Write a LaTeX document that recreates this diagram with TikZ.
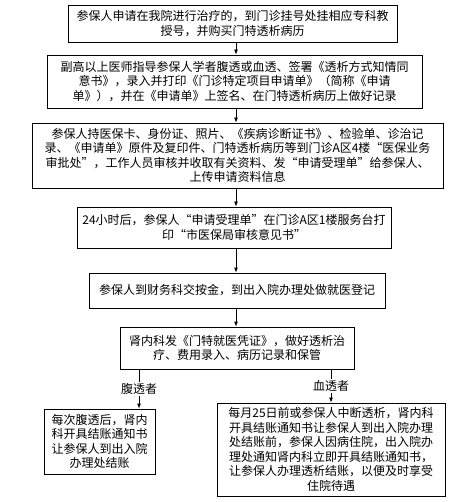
\documentclass[tikz,border=0pt]{standalone}
\usepackage{fontspec}
\newfontfamily\cjk{Noto Sans CJK SC}
\usetikzlibrary{arrows.meta}
\tikzset{
  box/.style={draw, line width=0.8pt, inner xsep=3pt, inner ysep=0pt, align=center,
    font=\cjk\fontsize{12}{14.5}\selectfont},
  arr/.style={line width=0.8pt, -{Latex[length=5pt,width=4pt]}},
  lbl/.style={fill=white, inner sep=1.5pt, font=\cjk\fontsize{12}{14}\selectfont}
}
\begin{document}
\begin{tikzpicture}[x=1pt,y=-1pt]
\useasboundingbox (0,0) rectangle (459,502);
\node[box, text width=323pt, minimum height=37pt] (b1) at (232.5,23.5)
 {参保人申请在我院进行治疗的，到门诊挂号处挂相应专科教\\授号，并购买门特透析病历};
\node[box, text width=369pt, minimum height=53pt] (b2) at (234.5,81.5)
 {副高以上医师指导参保人学者腹透或血透、签署《透析方式知情同\\意书》，录入并打印《门诊特定项目申请单》（简称《申请\\单》），并在《申请单》上签名、在门特透析病历上做好记录};
\node[box, text width=405pt, minimum height=65pt] (b3) at (237.5,155.5)
 {参保人持医保卡、身份证、照片、《疾病诊断证书》、检验单、诊治记\\录、《申请单》原件及复印件、门特透析病历等到门诊A区4楼“医保业务\\审批处”，工作人员审核并收取有关资料、发“申请受理单”给参保人、\\上传申请资料信息};
\node[box, text width=308pt, minimum height=41pt] (b4) at (234,227.5)
 {24小时后，参保人“申请受理单”在门诊A区1楼服务台打\\印“市医保局审核意见书”};
\node[box, text width=290pt, minimum height=35pt] (b5) at (237,290.5)
 {参保人到财务科交按金，到出入院办理处做就医登记};
\node[box, text width=228pt, minimum height=42pt] (b6) at (237,348)
 {肾内科发《门特就医凭证》，做好透析治\\疗、费用录入、病历记录和保管};
\node[box, text width=105pt, minimum height=65pt] (b7) at (99.5,441.5)
 {每次腹透后，肾内\\科开具结账通知书\\让参保人到出入院\\办理处结账};
\node[box, text width=222pt, minimum height=93pt] (b8) at (331,449.5)
 {每月25日前或参保人中断透析，肾内科\\开具结账通知书让参保人到出入院办理\\处结账前，参保人因病住院，出入院办\\理处通知肾内科立即开具结账通知书，\\让参保人办理透析结账，以便及时享受\\住院待遇};
\draw[arr] (b1.south -| 236,0) -- (b2.north -| 236,0);
\draw[arr] (b2.south -| 236,0) -- (b3.north -| 236,0);
\draw[arr] (b3.south -| 236,0) -- (b4.north -| 236,0);
\draw[arr] (b4.south -| 236,0) -- (b5.north -| 236,0);
\draw[arr] (b5.south -| 236,0) -- (b6.north -| 236,0);
\coordinate (pL) at (139,369);
\coordinate (pR) at (331,369);
\draw[arr] (pL) -- node[lbl] (lL) {腹透者} (pL |- b7.north);
\draw[arr] (pR) -- node[lbl] (lR) {血透者} (pR |- b8.north);
\end{tikzpicture}
\end{document}
